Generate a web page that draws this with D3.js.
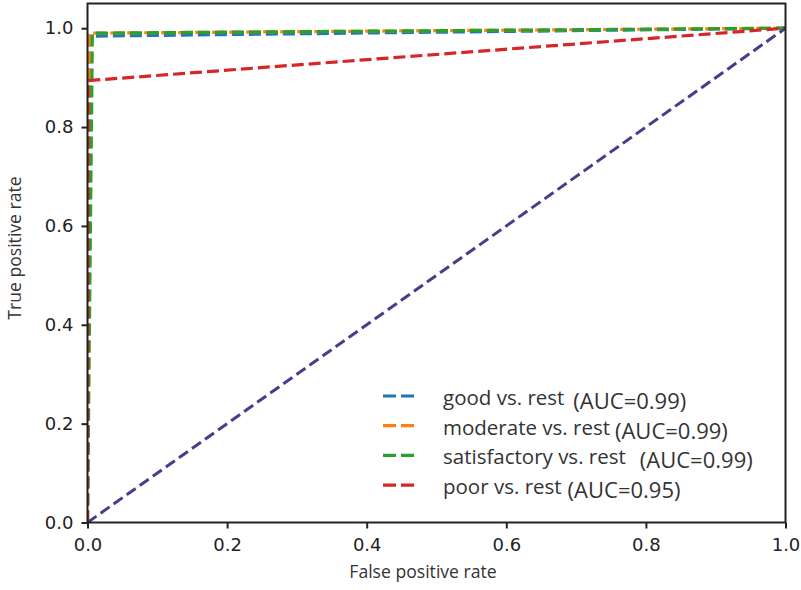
<!DOCTYPE html>
<html><head><meta charset="utf-8">
<script src="https://cdn.jsdelivr.net/npm/d3@7"></script>
<style>body{margin:0;background:#fff}svg{display:block}</style>
</head><body><svg id="c" width="801" height="590"></svg>
<script>
const seriesNames = ["good vs. rest", "moderate vs. rest", "satisfactory vs. rest", "poor vs. rest"];
const aucLabels = ["(AUC=0.99)", "(AUC=0.99)", "(AUC=0.99)", "(AUC=0.95)"];
const fprGood = [0, 0.0025, 1];
const tprGood = [0, 0.984, 1];
const fprModerate = [0, 0.003, 1];
const tprModerate = [0, 0.99, 1];
const fprSatisfactory = [0, 0.007, 1];
const tprSatisfactory = [0, 0.99, 1];
const fprPoor = [0, 0.001, 1];
const tprPoor = [0, 0.894, 1];
const chanceX = [0, 1];
const chanceY = [0, 1];
const xTicks = [0, 0.2, 0.4, 0.6, 0.8, 1.0];
const yTicks = [0, 0.2, 0.4, 0.6, 0.8, 1.0];

const colors = ["#1f77b4", "#ff7f0e", "#2ca02c", "#d62728"];
const fprs = [fprGood, fprModerate, fprSatisfactory, fprPoor];
const tprs = [tprGood, tprModerate, tprSatisfactory, tprPoor];
const aucGap = [9, 5, 14, 6];

const L = 87.5, R = 785.5, T = 3.5, B = 522.5;
const x = d3.scaleLinear().domain([0, 1]).range([L, R]);
const y = d3.scaleLinear().domain([0, 1.05]).range([B, T]);
const svg = d3.select("#c");
const txtFont = "'Open Sans', sans-serif";

svg.append("clipPath").attr("id", "clip").append("rect")
  .attr("x", L).attr("y", T).attr("width", R - L).attr("height", B - T);

const g = svg.append("g").attr("clip-path", "url(#clip)");
const line = d3.line().x(d => x(d[0])).y(d => y(d[1]));

fprs.forEach((f, i) => {
  const pts = f.map((v, j) => [v, tprs[i][j]]);
  g.append("path").attr("d", line(pts)).attr("fill", "none")
    .attr("stroke", colors[i]).attr("stroke-width", 3.2)
    .attr("stroke-dasharray", "12,5");
});
g.append("path").attr("d", line(chanceX.map((v, j) => [v, chanceY[j]])))
  .attr("fill", "none").attr("stroke", "#483d8b").attr("stroke-width", 3)
  .attr("stroke-dasharray", "11,5");

// axes
const xAxis = svg.append("g").attr("transform", `translate(0,${B})`)
  .call(d3.axisBottom(x).tickValues(xTicks).tickFormat(d3.format(".1f")).tickSize(6).tickSizeOuter(0));
const yAxis = svg.append("g").attr("transform", `translate(${L},0)`)
  .call(d3.axisLeft(y).tickValues(yTicks).tickFormat(d3.format(".1f")).tickSize(6).tickSizeOuter(0));
[xAxis, yAxis].forEach(a => {
  a.select(".domain").remove();
  a.selectAll(".tick line").attr("stroke", "#222").attr("stroke-width", 2);
  a.selectAll(".tick text").attr("fill", "#222").style("font-family", "'DejaVu Sans', sans-serif").style("font-size", "18px");
});
xAxis.selectAll(".tick text").attr("y", 11).attr("dy", "0.95em");
yAxis.selectAll(".tick text").attr("x", -14);

svg.append("rect").attr("x", L).attr("y", T).attr("width", R - L).attr("height", B - T)
  .attr("fill", "none").attr("stroke", "#222").attr("stroke-width", 2);

svg.append("text").attr("x", 423).attr("y", 578).attr("text-anchor", "middle")
  .style("font-family", txtFont).style("font-size", "17.6px").attr("fill", "#333").text("False positive rate");
svg.append("text").attr("transform", `translate(21,${248}) rotate(-90)`).attr("text-anchor", "middle")
  .style("font-family", txtFont).style("font-size", "17.6px").attr("fill", "#333").text("True positive rate");

// legend
const lg = svg.append("g");
seriesNames.forEach((name, i) => {
  const yy = 400 + i * 29.7;
  lg.append("line").attr("x1", 383).attr("x2", 418).attr("y1", yy - 4).attr("y2", yy - 4)
    .attr("stroke", colors[i]).attr("stroke-width", 3.2).attr("stroke-dasharray", "13,5");
  const t = lg.append("text").attr("x", 443).attr("y", yy + 5)
    .style("font-family", txtFont).style("font-size", "20.5px").attr("fill", "#333").text(name);
  const w = t.node().getComputedTextLength();
  lg.append("text").attr("x", 443 + w + aucGap[i]).attr("y", yy + 9)
    .style("font-family", txtFont).style("font-size", "22px").attr("fill", "#333").text(aucLabels[i]);
});
</script></body></html>
